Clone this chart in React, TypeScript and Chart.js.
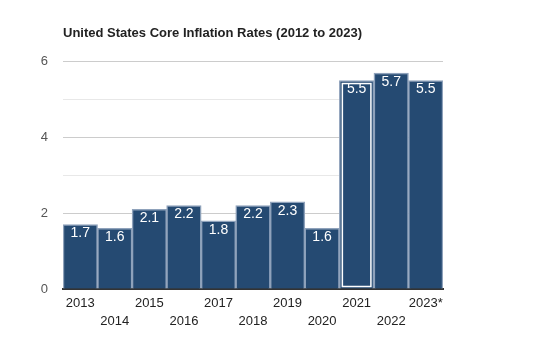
import React, { useEffect, useRef } from "react";
import { Chart, registerables } from "chart.js";

Chart.register(...registerables);

const years = ["2013", "2014", "2015", "2016", "2017", "2018", "2019", "2020", "2021", "2022", "2023*"];
const coreInflation = [1.7, 1.6, 2.1, 2.2, 1.8, 2.2, 2.3, 1.6, 5.5, 5.7, 5.5];
const highlightedIndex = 8;
const titleText = "United States Core Inflation Rates (2012 to 2023)";

const FONT = "'Liberation Sans', Arial, sans-serif";

const overlayPlugin = {
  id: "overlay",
  afterDatasetsDraw(chart: any) {
    const ctx = chart.ctx;
    const meta = chart.getDatasetMeta(0);
    ctx.save();
    meta.data.forEach((bar: any, i: number) => {
      const props = bar.getProps(["x", "y", "base", "width"], true);
      if (i === highlightedIndex) {
        ctx.strokeStyle = "#ffffff";
        ctx.lineWidth = 1.5;
        ctx.strokeRect(props.x - props.width / 2 + 3, props.y + 3, props.width - 6, props.base - props.y - 5);
      }
      ctx.fillStyle = "#ffffff";
      ctx.font = `14px ${FONT}`;
      ctx.textAlign = "center";
      ctx.textBaseline = "middle";
      ctx.fillText(String(coreInflation[i]), props.x, props.y + 9);
    });
    ctx.restore();
  },
};

export default function App() {
  const ref = useRef<HTMLCanvasElement>(null);
  useEffect(() => {
    if (!ref.current) return;
    const chart = new Chart(ref.current, {
      type: "bar",
      data: {
        labels: years.map((y, i) => (i % 2 === 0 ? [y] : ["", y])),
        datasets: [
          {
            data: coreInflation,
            backgroundColor: "#254a72",
            borderColor: "#8fa2bb",
            borderWidth: 1.5,
            categoryPercentage: 1,
            barPercentage: 1,
          },
        ],
      },
      options: {
        animation: false,
        responsive: false,
        devicePixelRatio: 1,
        layout: { padding: { left: 0, right: 92, top: 0, bottom: 25 } },
        plugins: {
          legend: { display: false },
          tooltip: { enabled: false },
          title: {
            display: true,
            text: titleText,
            align: "start",
            fullSize: false,
            color: "#222222",
            font: { family: FONT, size: 13, weight: "bold", lineHeight: 1.2 },
            padding: { top: 26, bottom: 20 },
          },
        },
        scales: {
          x: {
            grid: { display: false, drawTicks: false },
            border: { display: true, color: "#333333", width: 2 },
            ticks: {
              color: "#222222",
              font: { family: FONT, size: 13, lineHeight: 1.4 },
              padding: 5,
              maxRotation: 0,
              autoSkip: false,
            },
            afterFit(scale: any) {
              scale.height = 50;
            },
          },
          y: {
            min: 0,
            max: 6,
            border: { display: false },
            grid: {
              drawTicks: false,
              color: (c: any) => (c.tick && c.tick.value % 2 === 0 ? "#cccccc" : "#e8e8e8"),
            },
            ticks: {
              stepSize: 1,
              color: "#555555",
              font: { family: FONT, size: 13 },
              padding: 15,
              callback: (v: any) => (Number(v) % 2 === 0 ? String(v) : ""),
            },
            afterFit(scale: any) {
              scale.width = 63;
            },
          },
        },
      },
      plugins: [overlayPlugin],
    } as any);
    return () => chart.destroy();
  }, []);
  return (
    <div style={{ position: "fixed", left: 0, top: 0, width: 535, height: 364, background: "#fff" }}>
      <canvas ref={ref} width={535} height={364} style={{ width: 535, height: 364 }} />
    </div>
  );
}
